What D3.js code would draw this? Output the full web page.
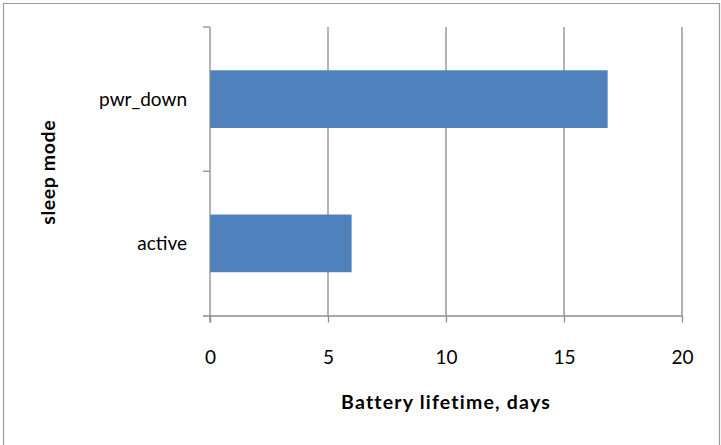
<!DOCTYPE html>
<html>
<head>
<meta charset="utf-8">
<script src="https://cdn.jsdelivr.net/npm/d3@7"></script>
<style>
  html, body { margin: 0; padding: 0; background: #fff; }
  svg { display: block; }
  text { font-family: Lato, "Open Sans", "Liberation Sans", sans-serif; fill: #000; }
</style>
</head>
<body>
<svg id="chart" width="721" height="445"></svg>
<script>
// Battery lifetime per sleep mode
const categories = ["pwr_down", "active"];
const lifetimeDays = [16.85, 6.0];
const xTicks = [0, 5, 10, 15, 20];
const xTitle = "Battery lifetime, days";
const yTitle = "sleep mode";

const svg = d3.select("#chart");
const W = 721, H = 445;
const plot = { left: 210, right: 682, top: 27, bottom: 315.5 };
const axisColor = "#8c8c8c";

// chart frame
svg.append("path")
  .attr("d", `M3.5,${H} V3.5 H719.5 V${H}`)
  .attr("fill", "none")
  .attr("stroke", "#9a9a9a")
  .attr("stroke-width", 1.2);

const x = d3.scaleLinear().domain([0, 20]).range([plot.left, plot.right]);
const y = d3.scaleBand().domain(categories).range([plot.top, plot.bottom]).paddingInner(0.6).paddingOuter(0.3);
const yEdges = d3.scaleBand().domain(categories).range([plot.top, plot.bottom]);

// vertical gridlines
svg.append("g").selectAll("line")
  .data(xTicks.filter(d => d > 0))
  .join("line")
  .attr("x1", d => x(d)).attr("x2", d => x(d))
  .attr("y1", plot.top).attr("y2", plot.bottom)
  .attr("stroke", axisColor).attr("stroke-width", 1.3);

// bars
svg.append("g").selectAll("rect")
  .data(categories.map((c, i) => ({ c, v: lifetimeDays[i] })))
  .join("rect")
  .attr("x", x(0))
  .attr("y", d => y(d.c))
  .attr("width", d => x(d.v) - x(0))
  .attr("height", y.bandwidth())
  .attr("fill", "#4f81bd");

// x axis
const xAxis = d3.axisBottom(x).tickValues(xTicks).tickSize(7).tickSizeOuter(0);
const gx = svg.append("g").attr("transform", `translate(0,${plot.bottom})`).call(xAxis);
gx.select(".domain").attr("stroke", axisColor).attr("stroke-width", 1.3)
  .attr("d", `M${plot.left - 7},0.5H${plot.right}`);
gx.selectAll(".tick line").attr("stroke", axisColor).attr("stroke-width", 1.3);
gx.selectAll(".tick text")
  .attr("y", 48.5).attr("dy", null)
  .attr("font-size", 19)
  .attr("font-family", "Lato, 'Open Sans', sans-serif")
  .attr("fill", "#000");

// y axis: category boundaries as ticks, labels centred in each band
const gy = svg.append("g");
gy.append("line")
  .attr("x1", plot.left).attr("x2", plot.left)
  .attr("y1", plot.top).attr("y2", plot.bottom + 7)
  .attr("stroke", axisColor).attr("stroke-width", 1.3);
const boundaries = [plot.top].concat(categories.map(c => yEdges(c) + yEdges.bandwidth()));
gy.selectAll("line.tk")
  .data(boundaries.slice(0, -1))
  .join("line").attr("class", "tk")
  .attr("x1", plot.left - 7).attr("x2", plot.left)
  .attr("y1", d => d).attr("y2", d => d)
  .attr("stroke", axisColor).attr("stroke-width", 1.3);
gy.selectAll("text")
  .data(categories)
  .join("text")
  .attr("x", 187)
  .attr("y", c => yEdges(c) + yEdges.bandwidth() / 2 + 7)
  .attr("text-anchor", "end")
  .attr("font-size", 19)
  .text(c => c);

// axis titles
svg.append("text")
  .attr("x", (plot.left + plot.right) / 2)
  .attr("y", 409)
  .attr("text-anchor", "middle")
  .attr("font-size", 19.5)
  .attr("font-weight", "bold")
  .attr("letter-spacing", 1.2)
  .text(xTitle);

svg.append("text")
  .attr("transform", `translate(55,${(plot.top + plot.bottom) / 2 + 1}) rotate(-90)`)
  .attr("text-anchor", "middle")
  .attr("font-size", 19.5)
  .attr("font-weight", "bold")
  .attr("letter-spacing", 0.6)
  .text(yTitle);
</script>
</body>
</html>
